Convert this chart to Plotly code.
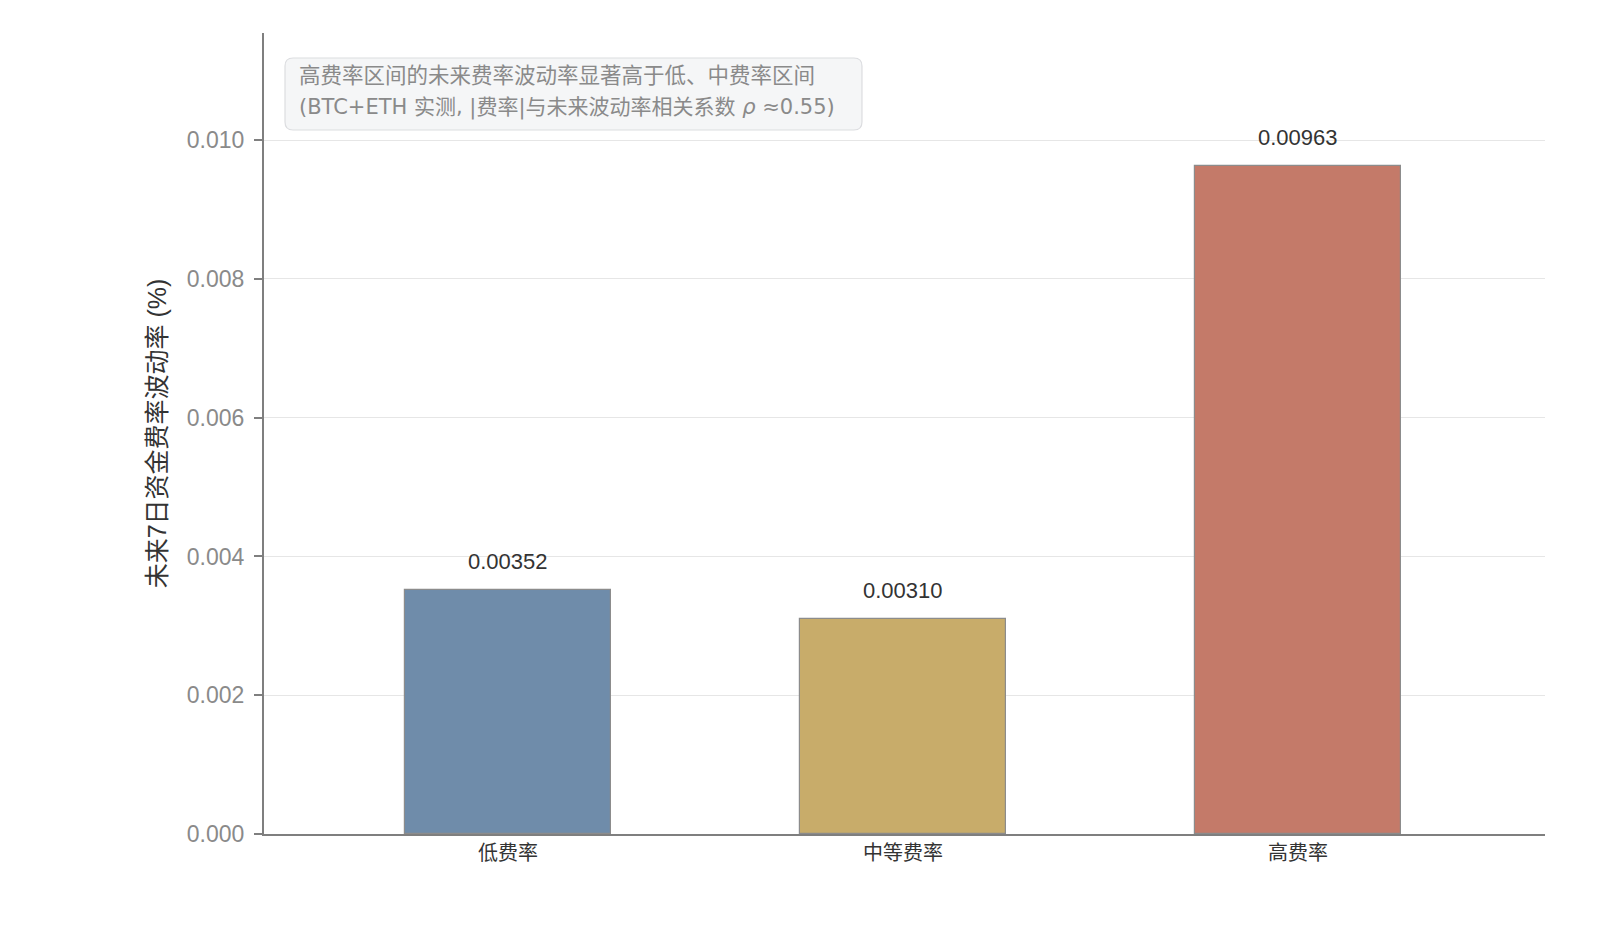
import plotly.graph_objects as go

categories = ["低费率", "中等费率", "高费率"]
values = [0.00352, 0.00310, 0.00963]
value_labels = ["0.00352", "0.00310", "0.00963"]
colors = ["#6f8caa", "#c8ac6a", "#c47a69"]
y_ticks = [0.000, 0.002, 0.004, 0.006, 0.008, 0.010]
note_lines = ["高费率区间的未来费率波动率显著高于低、中费率区间",
              "(BTC+ETH 实测, |费率|与未来波动率相关系数 <i>ρ</i> ≈0.55)"]

FONT = "Liberation Sans, Noto Sans CJK SC, sans-serif"
NOTE_FONTS = [FONT, "DejaVu Sans, Noto Sans CJK SC, sans-serif"]

W, H = 1600, 942
ML, MR, MT, MB = 256, 63, 25, 116
PW, PH = W - ML - MR, H - MT - MB


def rounded_box(x0, y0, x1, y1, r=8):
    # rounded rectangle path in paper coords, radius given in px
    rx, ry = r / PW, r / PH
    return (f"M{x0+rx},{y0} L{x1-rx},{y0} Q{x1},{y0} {x1},{y0+ry} "
            f"L{x1},{y1-ry} Q{x1},{y1} {x1-rx},{y1} L{x0+rx},{y1} "
            f"Q{x0},{y1} {x0},{y1-ry} L{x0},{y0+ry} Q{x0},{y0} {x0+rx},{y0} Z")


fig = go.Figure()
fig.add_trace(go.Bar(
    x=list(range(len(categories))),
    y=values,
    width=0.52,
    marker=dict(color=colors, line=dict(color="#8c8c8c", width=1.2)),
    showlegend=False,
))

# value labels above each bar
for i, v in enumerate(values):
    fig.add_annotation(x=i, y=v, text=value_labels[i], showarrow=False,
                       yanchor="bottom", yshift=14,
                       font=dict(family=FONT, size=22, color="#333333"))

# note box in upper left
fig.add_shape(type="path", xref="paper", yref="paper",
              path=rounded_box(0.0164, 0.8789, 0.4668, 0.9688),
              fillcolor="#f5f6f7", line=dict(color="#dcdde0", width=1.2),
              layer="above")
for line, fam, ypos in zip(note_lines, NOTE_FONTS, [0.9457, 0.9076]):
    fig.add_annotation(
        xref="paper", yref="paper", x=0.0258, y=ypos,
        xanchor="left", yanchor="middle", align="left", showarrow=False,
        text=line, font=dict(family=fam, size=21 if fam != FONT else 21.5, color="#8a8a8a"),
    )

fig.update_layout(
    width=W, height=H,
    margin=dict(l=ML, r=MR, t=MT, b=MB),
    plot_bgcolor="white", paper_bgcolor="white",
    font=dict(family=FONT),
    bargap=0,
)
fig.update_xaxes(
    range=[-0.618, 2.625],
    tickmode="array", tickvals=list(range(len(categories))), ticktext=categories,
    tickfont=dict(size=20, color="#333333"),
    showline=True, linecolor="#7f7f7f", linewidth=2,
    showgrid=False, zeroline=False, ticks="",
)
fig.update_yaxes(
    range=[0, 0.011545],
    tickmode="array", tickvals=y_ticks, ticktext=["%.3f" % t for t in y_ticks],
    tickfont=dict(size=23, color="#8a8a8a"), ticklabelstandoff=5,
    showline=True, linecolor="#7f7f7f", linewidth=2,
    ticks="outside", ticklen=8, tickcolor="#7f7f7f", tickwidth=1.5,
    showgrid=True, gridcolor="#e6e6e6", gridwidth=1, zeroline=False,
    title=dict(text="未来7日资金费率波动率 (%)", font=dict(size=25, color="#333333"), standoff=13),
)

fig.write_html("out.html")
